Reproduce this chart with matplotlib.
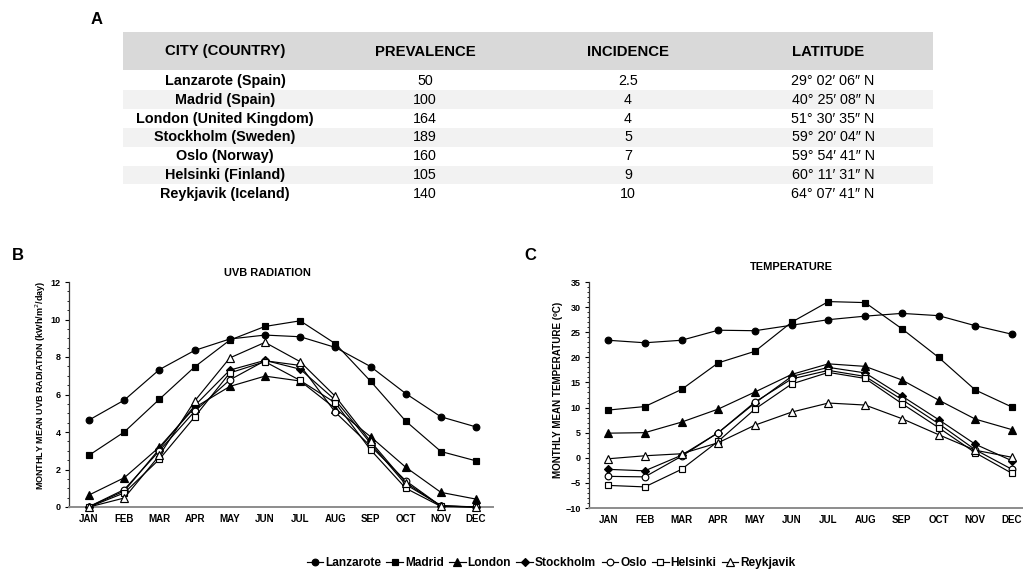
import matplotlib
matplotlib.use("Agg")
import matplotlib.pyplot as plt
from matplotlib.patches import Rectangle
from matplotlib.ticker import MultipleLocator

plt.rcParams['font.family'] = ['Liberation Sans', 'DejaVu Sans']

# ---------------- data ----------------
table_header = ["CITY (COUNTRY)", "PREVALENCE", "INCIDENCE", "LATITUDE"]
cities_full = ["Lanzarote (Spain)", "Madrid (Spain)", "London (United Kingdom)",
               "Stockholm (Sweden)", "Oslo (Norway)", "Helsinki (Finland)",
               "Reykjavik (Iceland)"]
prevalence = ["50", "100", "164", "189", "160", "105", "140"]
incidence = ["2.5", "4", "4", "5", "7", "9", "10"]
latitude = ["29° 02′ 06″ N", "40° 25′ 08″ N", "51° 30′ 35″ N", "59° 20′ 04″ N",
            "59° 54′ 41″ N", "60° 11′ 31″ N", "64° 07′ 41″ N"]

months = ["JAN", "FEB", "MAR", "APR", "MAY", "JUN", "JUL", "AUG", "SEP", "OCT", "NOV", "DEC"]
series_names = ["Lanzarote", "Madrid", "London", "Stockholm", "Oslo", "Helsinki", "Reykjavik"]

uvb_lanzarote = [4.64, 5.70, 7.33, 8.35, 8.96, 9.17, 9.08, 8.51, 7.49, 6.05, 4.81, 4.27]
uvb_madrid    = [2.76, 4.00, 5.75, 7.47, 8.90, 9.63, 9.93, 8.71, 6.71, 4.58, 2.96, 2.46]
uvb_london    = [0.64, 1.56, 3.20, 5.30, 6.43, 6.98, 6.72, 5.25, 3.75, 2.12, 0.78, 0.42]
uvb_stockholm = [0.02, 0.85, 3.10, 5.40, 7.30, 7.82, 7.35, 5.70, 3.40, 1.20, 0.08, 0.00]
uvb_oslo      = [0.02, 0.93, 3.00, 5.10, 6.78, 7.80, 7.55, 5.05, 3.25, 1.40, 0.05, 0.00]
uvb_helsinki  = [0.00, 0.75, 2.55, 4.80, 7.15, 7.75, 6.75, 5.55, 3.05, 1.00, 0.03, 0.00]
uvb_reykjavik = [0.00, 0.48, 2.75, 5.65, 7.95, 8.78, 7.75, 5.90, 3.50, 1.30, 0.05, 0.00]

tmp_lanzarote = [23.4, 22.9, 23.4, 25.4, 25.3, 26.4, 27.5, 28.2, 28.75, 28.3, 26.3, 24.6]
tmp_madrid    = [9.5, 10.2, 13.6, 18.9, 21.2, 27.0, 31.1, 30.9, 25.7, 20.0, 13.5, 10.1]
tmp_london    = [4.9, 5.0, 7.1, 9.7, 13.1, 16.6, 18.7, 18.2, 15.5, 11.5, 7.7, 5.6]
tmp_stockholm = [-2.3, -2.6, 0.5, 5.0, 10.9, 16.2, 18.0, 16.9, 12.3, 7.6, 2.7, -0.6]
tmp_oslo      = [-3.7, -3.8, 0.3, 5.0, 11.1, 15.7, 17.4, 16.2, 11.6, 6.8, 1.6, -2.3]
tmp_helsinki  = [-5.5, -5.8, -2.3, 3.3, 9.7, 14.7, 17.0, 15.8, 10.8, 6.0, 1.0, -3.1]
tmp_reykjavik = [-0.2, 0.4, 0.8, 3.0, 6.5, 9.1, 10.9, 10.5, 7.8, 4.6, 1.5, 0.1]

uvb_series = [uvb_lanzarote, uvb_madrid, uvb_london, uvb_stockholm, uvb_oslo, uvb_helsinki, uvb_reykjavik]
tmp_series = [tmp_lanzarote, tmp_madrid, tmp_london, tmp_stockholm, tmp_oslo, tmp_helsinki, tmp_reykjavik]

markers = ['o', 's', '^', 'D', 'o', 's', '^']
filled = [True, True, True, True, False, False, False]
msizes = [4.8, 4.8, 5.2, 4.2, 4.8, 4.8, 5.2]

W, H = 1023, 571
fig = plt.figure(figsize=(W / 100, H / 100), dpi=100)

def fx(x):
    return x / W

def fy(y):
    return 1 - y / H

# ---------------- Table (A) ----------------
fig.text(fx(97), fy(19), "A", fontsize=12, fontweight='bold', ha='center', va='center')
tx0, tx1 = 123, 933
fig.patches.append(Rectangle((fx(tx0), fy(70)), fx(tx1) - fx(tx0), fy(32) - fy(70),
                             transform=fig.transFigure, facecolor='#d9d9d9', edgecolor='none', zorder=0))
header_x = [225, 425, 628, 828]
col_x = [225, 425, 628, 833]
for cx, h in zip(header_x, table_header):
    fig.text(fx(cx), fy(51.5), h, fontsize=10.7, fontweight='bold', ha='center', va='center')
row_y0, row_dy = 81.0, 18.8
for i in range(len(cities_full)):
    yc = row_y0 + i * row_dy
    if i % 2 == 1:
        fig.patches.append(Rectangle((fx(tx0), fy(yc + row_dy / 2)), fx(tx1) - fx(tx0), row_dy / H,
                                     transform=fig.transFigure, facecolor='#f2f2f2',
                                     edgecolor='none', zorder=0))
    fig.text(fx(col_x[0]), fy(yc), cities_full[i], fontsize=10.4, fontweight='bold',
             ha='center', va='center')
    fig.text(fx(col_x[1]), fy(yc), prevalence[i], fontsize=10.3, ha='center', va='center')
    fig.text(fx(col_x[2]), fy(yc), incidence[i], fontsize=10.3, ha='center', va='center')
    fig.text(fx(col_x[3]), fy(yc), latitude[i], fontsize=10.3, ha='center', va='center')

# ---------------- Charts ----------------
def make_axes(left, right, top, bottom):
    return fig.add_axes([fx(left), fy(bottom), fx(right) - fx(left), fy(top) - fy(bottom)])

def style_axes(ax, ymin, ymax, major, minor, xlim):
    x = list(range(len(months)))
    ax.set_xlim(*xlim)
    ax.set_ylim(ymin, ymax)
    ax.set_xticks(x)
    ax.set_xticklabels(months, fontsize=7, fontweight='bold')
    ax.yaxis.set_major_locator(MultipleLocator(major))
    ax.yaxis.set_minor_locator(MultipleLocator(minor))
    for lab in ax.get_yticklabels():
        lab.set_fontsize(6.5)
        lab.set_fontweight('bold')
    ax.spines['top'].set_visible(False)
    ax.spines['right'].set_visible(False)
    ax.spines['bottom'].set_color('#8c8c8c')
    ax.spines['bottom'].set_linewidth(1.4)
    ax.spines['left'].set_color('#333333')
    ax.spines['left'].set_linewidth(0.9)
    ax.tick_params(axis='x', length=0, pad=5)
    ax.tick_params(axis='y', which='major', length=3, width=0.8, pad=3)
    ax.tick_params(axis='y', which='minor', length=1.5, width=0.6)

def plot_series(ax, series):
    x = list(range(len(months)))
    handles = []
    for name, vals, m, f, ms in zip(series_names, series, markers, filled, msizes):
        h, = ax.plot(x, vals, color='black', lw=0.85, marker=m, markersize=ms,
                     markerfacecolor='black' if f else 'white', markeredgecolor='black',
                     markeredgewidth=0.85, label=name, clip_on=False, zorder=3)
        handles.append(h)
    return handles

# B
fig.text(fx(18), fy(256), "B", fontsize=12, fontweight='bold', ha='center', va='center')
axB = make_axes(69, 493, 282, 507)
handles = plot_series(axB, uvb_series)
style_axes(axB, 0, 12, 2, 0.5, (-0.57, 11.48))
fig.text(fx(267), fy(273), "UVB RADIATION", fontsize=7.9, fontweight='bold', ha='center', va='center')
axB.set_ylabel("MONTHLY MEAN UVB RADIATION (kWh/m$^2$/day)", fontsize=6.5, fontweight='bold')
axB.yaxis.set_label_coords((48 - 69) / 424, (507 - 385) / 225)

# C
fig.text(fx(530), fy(256), "C", fontsize=12, fontweight='bold', ha='center', va='center')
axC = make_axes(589, 1023, 282, 508)
plot_series(axC, tmp_series)
style_axes(axC, -10, 35, 5, 1, (-0.52, 11.3))
fig.text(fx(791), fy(267), "TEMPERATURE", fontsize=7.9, fontweight='bold', ha='center', va='center')
axC.set_ylabel("MONTHLY MEAN TEMPERATURE (ºC)", fontsize=7.1, fontweight='bold')
axC.yaxis.set_label_coords((563 - 589) / 434, (508 - 390) / 226)

# Legend
fig.legend(handles, series_names, loc='center', bbox_to_anchor=(fx(551), fy(563)), ncol=7,
           frameon=False, handlelength=1.4, handletextpad=0.15, columnspacing=0.45,
           prop={'weight': 'bold', 'size': 8.6})

fig.savefig("out.png", dpi=100)
